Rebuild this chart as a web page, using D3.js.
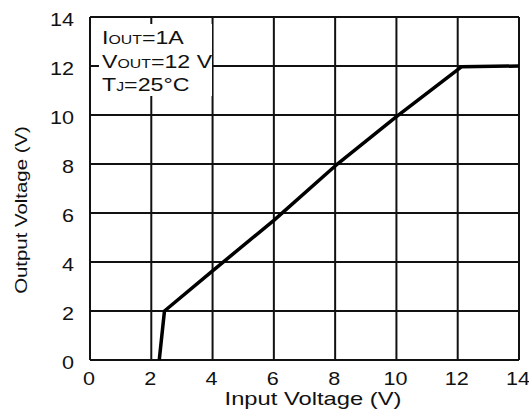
<!DOCTYPE html>
<html>
<head>
<meta charset="utf-8">
<script src="https://cdn.jsdelivr.net/npm/d3@7"></script>
<style>
  body { margin: 0; background: #fff; }
  text { font-family: "Liberation Sans", Arial, sans-serif; fill: #111; }
</style>
</head>
<body>
<div id="chart"></div>
<script>
// data
const inputVoltage  = [2.26, 2.43, 4, 6, 8, 10, 12.13, 14];
const outputVoltage = [0, 2, 3.64, 5.7, 7.92, 9.93, 11.97, 12];
const xTicks = [0, 2, 4, 6, 8, 10, 12, 14];
const yTicks = [0, 2, 4, 6, 8, 10, 12, 14];
const notes = [
    ["I", "OUT", "=1A"],
    ["V", "OUT", "=12 V"],
    ["T", "J", "=25°C"]
];

const width = 529, height = 411;
const margin = { top: 17, right: 10, bottom: 51, left: 90 };
const stretch = 1.2;  // the scanned figure's text is a bit wide

const svg = d3.select("#chart")
    .append("svg")
    .attr("width", width)
    .attr("height", height);

const x = d3.scaleLinear().domain([0, 14]).range([margin.left, width - margin.right]);
const y = d3.scaleLinear().domain([0, 14]).range([height - margin.bottom, margin.top]);

// grid
svg.append("g")
    .selectAll("line")
    .data(xTicks)
    .enter()
    .append("line")
    .attr("x1", d => x(d)).attr("x2", d => x(d))
    .attr("y1", y(0)).attr("y2", y(14))
    .attr("stroke", "#111")
    .attr("stroke-width", 2);

svg.append("g")
    .selectAll("line")
    .data(yTicks)
    .enter()
    .append("line")
    .attr("x1", x(0)).attr("x2", x(14))
    .attr("y1", d => y(d)).attr("y2", d => y(d))
    .attr("stroke", "#111")
    .attr("stroke-width", 2);

// tick labels
svg.append("g")
    .selectAll("text")
    .data(xTicks)
    .enter()
    .append("text")
    .attr("transform", d => `translate(${x(d) - 1},${y(0) + 24.5}) scale(${stretch},1)`)
    .attr("text-anchor", "middle")
    .attr("font-size", "18px")
    .text(d => d);

svg.append("g")
    .selectAll("text")
    .data(yTicks)
    .enter()
    .append("text")
    .attr("transform", d => `translate(${x(0) - 16},${y(d) + 9}) scale(${stretch},1)`)
    .attr("text-anchor", "end")
    .attr("font-size", "18px")
    .text(d => d);

// axis titles
svg.append("text")
    .attr("transform", `translate(313,405) scale(1.25,1)`)
    .attr("text-anchor", "middle")
    .attr("font-size", "19px")
    .text("Input Voltage (V)");

svg.append("text")
    .attr("transform", `translate(27,210) rotate(-90) scale(${stretch},1)`)
    .attr("text-anchor", "middle")
    .attr("font-size", "17px")
    .text("Output Voltage (V)");

// annotation box
const noteG = svg.append("g");
noteG.append("rect")
    .attr("x", 99).attr("y", 24)
    .attr("width", 113).attr("height", 72)
    .attr("fill", "#fff");

notes.forEach((n, i) => {
    const t = noteG.append("text")
        .attr("transform", `translate(102,${44 + i * 23.5}) scale(1.22,1)`)
        .attr("font-size", "19px");
    t.append("tspan").text(n[0]);
    t.append("tspan").attr("font-size", "13px").text(n[1]);
    t.append("tspan").text(n[2]);
});

// curve
const line = d3.line()
    .x((d, i) => x(inputVoltage[i]))
    .y(d => y(d));

svg.append("path")
    .datum(outputVoltage)
    .attr("d", line)
    .attr("fill", "none")
    .attr("stroke", "#000")
    .attr("stroke-width", 3.5)
    .attr("stroke-linejoin", "round");
</script>
</body>
</html>
